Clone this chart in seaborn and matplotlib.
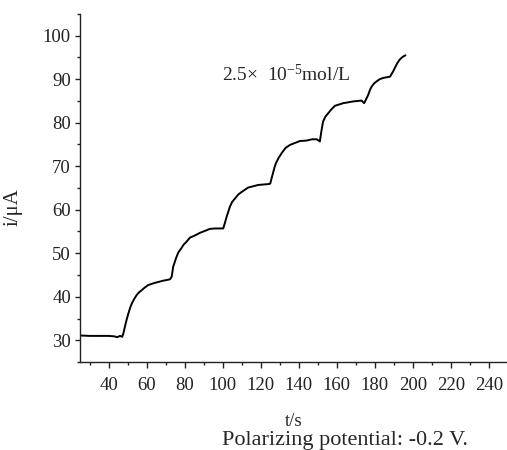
import matplotlib
matplotlib.use('Agg')
import matplotlib.pyplot as plt
from matplotlib.ticker import MultipleLocator
import numpy as np
import seaborn as sns

# time (s) and current (uA)
t_s = [25, 30, 35, 40, 43, 44.6, 46, 47.2,
       47.8, 48.6, 49.5, 50.4, 51.3, 52.2, 53.5, 54.8, 56, 57.4, 59, 60.9, 64.4, 68.8, 72.3,
       73.2, 74, 75.5, 76.7, 78.2, 79.5, 80.9, 82.8, 85, 88.1, 91, 93.3, 96, 98.6, 100.3,
       101.2, 102.1, 103, 103.8, 105, 106.5, 108.2, 110, 113.4, 118.7, 124, 125,
       125.7, 126.5, 127.3, 128, 129.5, 131, 133, 135.4, 137.1, 140.6, 144.1, 147, 149.4, 150.5, 151.1,
       151.8, 152.8, 154, 155.5, 157, 159, 163.4, 168.6, 173, 174.4,
       175.4, 176.5, 177.4, 178.3, 179.5, 180.9, 182.5, 184.4, 188, 189.6,
       190.5, 191.8, 193.2, 194.8, 196.1]
i_uA = [31.1, 31.0, 31.0, 31.0, 30.9, 30.7, 31.0, 30.8,
        31.6, 33.1, 34.7, 36.1, 37.4, 38.4, 39.5, 40.4, 41.0, 41.5, 42.1, 42.7, 43.2, 43.7, 44.0,
        44.6, 46.9, 48.9, 50.2, 51.1, 52.0, 52.6, 53.6, 54.0, 54.7, 55.2, 55.6, 55.7, 55.7, 55.7,
        57.0, 58.4, 59.6, 60.7, 61.8, 62.6, 63.5, 64.1, 65.1, 65.7, 65.9, 66.0,
        67.2, 68.5, 69.8, 70.7, 72.0, 73.0, 74.2, 74.9, 75.2, 75.8, 75.9, 76.2, 76.2, 75.9, 75.7,
        77.8, 80.3, 81.4, 82.2, 83.0, 83.9, 84.5, 84.9, 85.1, 84.5,
        85.4, 86.4, 87.5, 88.3, 89.0, 89.5, 90.0, 90.3, 90.6, 91.8,
        92.6, 93.7, 94.6, 95.2, 95.5]

x_ticks = list(range(40, 241, 20))
y_ticks = list(range(30, 101, 10))

sns.set_style('ticks')
plt.rcParams['font.family'] = ['Liberation Serif', 'DejaVu Serif']
plt.rcParams['mathtext.fontset'] = 'custom'
plt.rcParams['mathtext.rm'] = 'Liberation Serif'
plt.rcParams['mathtext.it'] = 'Liberation Serif:italic'

FS = 13.5  # 刻度字号

fig = plt.figure(figsize=(5.07, 4.5), dpi=100)
ax = fig.add_axes([80 / 507, (450 - 362) / 450, 428 / 507, 348 / 450])

sns.lineplot(x=np.array(t_s), y=np.array(i_uA), color='black', linewidth=1.4, ax=ax)

ax.set_xlim(25, 250)
ax.set_ylim(25, 105)
ax.set_xticks(x_ticks)
ax.set_yticks(y_ticks)
ax.xaxis.set_minor_locator(MultipleLocator(10))
ax.yaxis.set_minor_locator(MultipleLocator(5))
ax.tick_params(axis='x', which='major', length=4.5, width=1, pad=6, labelsize=FS, colors='#222222')
ax.tick_params(axis='x', which='minor', length=2.5, width=1, colors='#222222')
ax.tick_params(axis='y', which='major', length=3.5, width=1, pad=3, labelsize=FS, colors='#222222')
ax.tick_params(axis='y', which='minor', length=2.5, width=1, colors='#222222')
sns.despine(ax=ax)
for side in ['left', 'bottom']:
    ax.spines[side].set_linewidth(1.0)
    ax.spines[side].set_color('#222222')

ax.set_xlabel('t/s', fontsize=FS, labelpad=14)
ax.set_ylabel('i/μA', fontsize=15)
ax.yaxis.set_label_coords(-0.135, 0.445)

ax.text(99.6, 89.6, '2.5×  10$^{\\mathrm{-5}}$mol/L', fontsize=14, ha='left', va='baseline')
fig.text(345.5 / 507, 1 - 445 / 450, 'Polarizing potential: -0.2 V.', fontsize=16,
         ha='center', va='baseline')

fig.savefig('out.png', dpi=100)
plt.close()
